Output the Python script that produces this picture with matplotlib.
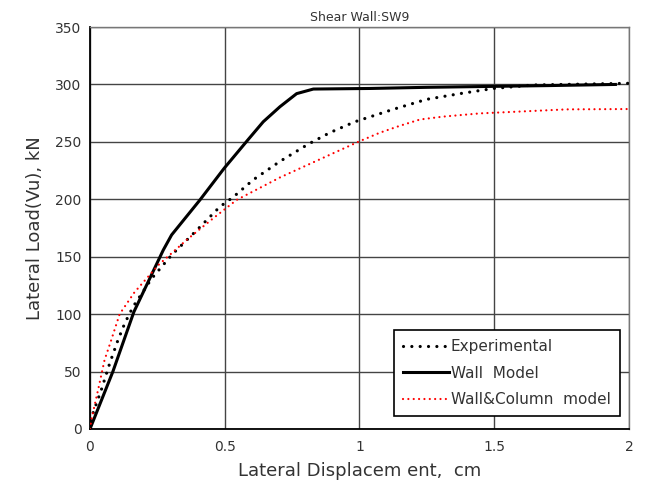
import matplotlib
matplotlib.use("Agg")
import matplotlib.pyplot as plt

# Experimental (black dotted)
exp_x = [0.0, 0.011, 0.042, 0.073, 0.104, 0.129, 0.16, 0.229, 0.303, 0.396, 0.482, 0.532, 0.606, 0.705, 0.81, 0.89, 0.983, 1.125, 1.249, 1.373, 1.497, 1.645, 2.0]
exp_y = [0.0, 13.6, 34, 57, 77.5, 92, 106.5, 131, 151.5, 173, 193.5, 202, 217, 233, 248, 258, 267.5, 278.3, 287, 292, 296.5, 299.5, 301]

# Wall Model (black solid)
wall_x = [0.0, 0.085, 0.163, 0.272, 0.303, 0.408, 0.498, 0.587, 0.643, 0.705, 0.767, 0.829, 1.04, 1.25, 1.70, 1.95]
wall_y = [0.0, 50, 102, 155.8, 169, 199.4, 227, 252, 267.5, 280.6, 292, 296, 296.5, 297.5, 299, 300]

# Wall&Column model (red dotted)
wc_x = [0.0, 0.005, 0.03, 0.054, 0.079, 0.11, 0.165, 0.254, 0.358, 0.457, 0.544, 0.705, 0.853, 1.0, 1.076, 1.15, 1.225, 1.311, 1.447, 1.77, 2.0]
wc_y = [0.0, 7.8, 34, 60, 77.5, 100, 119, 142.8, 164.5, 183.4, 199.4, 219, 234.8, 250.5, 258, 264, 269.5, 272, 274.8, 278.3, 278.6]

xticks = [0, 0.5, 1, 1.5, 2]
xticklabels = ["0", "0.5", "1", "1.5", "2"]
yticks = [0, 50, 100, 150, 200, 250, 300, 350]

fig = plt.figure(figsize=(6.45, 4.86), dpi=100)
ax = fig.add_axes([0.1395, 0.1173, 0.8355, 0.8271])

ax.plot(exp_x, exp_y, color="black", lw=2.3, linestyle=(0, (0.01, 2.6)),
        dash_capstyle="round", label="Experimental", zorder=3)
ax.plot(wall_x, wall_y, color="black", lw=2.2, linestyle="-",
        label="Wall  Model", zorder=3)
ax.plot(wc_x, wc_y, color="#ff0000", lw=1.6, linestyle=(0, (0.01, 2.4)),
        dash_capstyle="round", label="Wall&Column  model", zorder=3)

ax.set_xlim(0, 2)
ax.set_ylim(0, 350)
ax.set_xticks(xticks)
ax.set_xticklabels(xticklabels)
ax.set_yticks(yticks)
ax.grid(True, color="#444444", lw=1.0)
ax.set_axisbelow(True)
ax.tick_params(length=0, labelsize=10, colors="#333333", pad=8)
ax.tick_params(axis="y", pad=6)

for s in ["top", "right"]:
    ax.spines[s].set_color("#777777")
    ax.spines[s].set_linewidth(1.0)
for s in ["left", "bottom"]:
    ax.spines[s].set_color("black")
    ax.spines[s].set_linewidth(1.3)

ax.set_title("Shear Wall:SW9", fontsize=9, color="#333333", pad=4)
ax.set_xlabel("Lateral Displacem ent,  cm", fontsize=13, color="#333333", labelpad=6)
ax.set_ylabel("Lateral Load(Vu), kN", fontsize=13, color="#333333", labelpad=8)

leg = ax.legend(loc="lower right", bbox_to_anchor=(0.983, 0.032), fontsize=11,
                frameon=True, fancybox=False, handlelength=3.0, handletextpad=0.1,
                labelspacing=0.75, borderpad=0.6, borderaxespad=0)
leg.get_frame().set_edgecolor("black")
leg.get_frame().set_linewidth(1.2)
leg.get_frame().set_alpha(1)
for t in leg.get_texts():
    t.set_color("#333333")

fig.savefig("out.png", dpi=100)
